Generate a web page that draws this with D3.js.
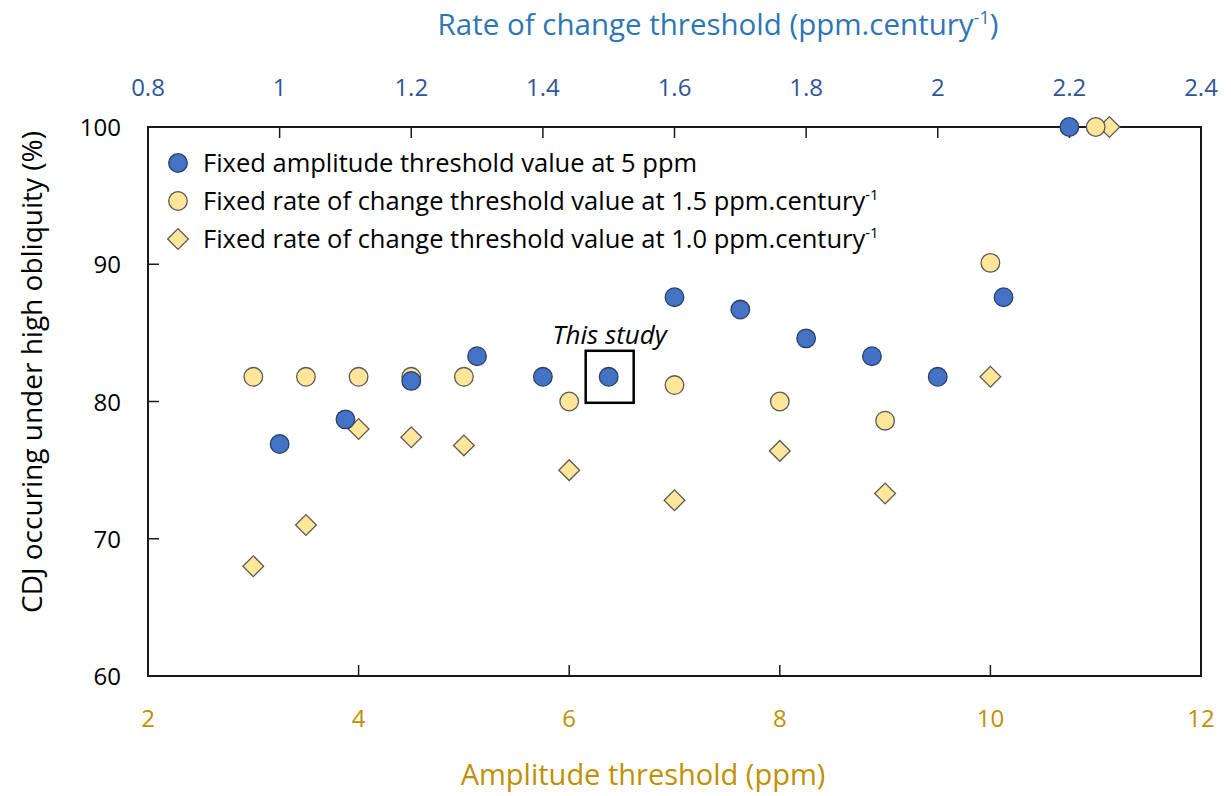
<!DOCTYPE html>
<html>
<head>
<meta charset="utf-8">
<script src="https://cdn.jsdelivr.net/npm/d3@7"></script>
<style>
  body { margin: 0; background: #fff; }
  text { font-family: "Open Sans", Lato, sans-serif; }
</style>
</head>
<body>
<svg id="chart" width="1231" height="796"></svg>
<script>
// rate of change thresholds (top axis) for fixed amplitude 5 ppm
var rateValues = [1.0, 1.1, 1.2, 1.3, 1.4, 1.5, 1.6, 1.7, 1.8, 1.9, 2.0, 2.1, 2.2]
var rateCdj    = [76.9, 78.7, 81.5, 83.3, 81.8, 81.8, 87.6, 86.7, 84.6, 83.3, 81.8, 87.6, 100]

// amplitude thresholds (bottom axis)
var ampValues15 = [3, 3.5, 4, 4.5, 5, 6, 7, 8, 9, 10, 11]
var ampCdj15    = [81.8, 81.8, 81.8, 81.8, 81.8, 80.0, 81.2, 80.0, 78.6, 90.1, 100]
var ampValues10 = [3, 3.5, 4, 4.5, 5, 6, 7, 8, 9, 10, 11.13]
var ampCdj10    = [68.0, 71.0, 78.0, 77.4, 76.8, 75.0, 72.8, 76.4, 73.3, 81.8, 100]

var ampTicks  = [2, 4, 6, 8, 10, 12]
var rateTicks = [0.8, 1, 1.2, 1.4, 1.6, 1.8, 2, 2.2, 2.4]
var yTicks    = [60, 70, 80, 90, 100]

var legendLabels = [
  'Fixed amplitude threshold value at 5 ppm',
  'Fixed rate of change threshold value at 1.5 ppm.century',
  'Fixed rate of change threshold value at 1.0 ppm.century'
]

var pLeft = 148, pRight = 1201, pTop = 127, pBottom = 676
var blue = '#4472C4', yellow = '#FFE699'

var svg = d3.select('#chart')

var xAmp = d3.scaleLinear().domain([2, 12]).range([pLeft, pRight])
var xRate = d3.scaleLinear().domain([0.8, 2.4]).range([pLeft, pRight])
var y = d3.scaleLinear().domain([60, 100]).range([pBottom, pTop])

// frame
svg.append('rect').attr('x', pLeft).attr('y', pTop)
  .attr('width', pRight - pLeft).attr('height', pBottom - pTop)
  .attr('fill', 'none').attr('stroke', '#1a1a1a').attr('stroke-width', 2)

// inward ticks
svg.selectAll('line.tb').data(ampTicks.slice(1, -1)).enter().append('line')
  .attr('x1', d => xAmp(d)).attr('x2', d => xAmp(d))
  .attr('y1', pBottom).attr('y2', pBottom - 11)
  .attr('stroke', '#1a1a1a').attr('stroke-width', 1.5)
svg.selectAll('line.tt').data(rateTicks.slice(1, -1)).enter().append('line')
  .attr('x1', d => xRate(d)).attr('x2', d => xRate(d))
  .attr('y1', pTop).attr('y2', pTop + 11)
  .attr('stroke', '#1a1a1a').attr('stroke-width', 1.5)
svg.selectAll('line.tl').data(yTicks.slice(1, -1)).enter().append('line')
  .attr('x1', pLeft).attr('x2', pLeft + 11)
  .attr('y1', d => y(d)).attr('y2', d => y(d))
  .attr('stroke', '#1a1a1a').attr('stroke-width', 1.5)

// tick labels
svg.selectAll('text.xb').data(ampTicks).enter().append('text')
  .attr('x', d => xAmp(d)).attr('y', 727)
  .attr('text-anchor', 'middle').attr('fill', '#BF9000').attr('font-size', 24)
  .text(d => d)
svg.selectAll('text.xt').data(rateTicks).enter().append('text')
  .attr('x', d => xRate(d)).attr('y', 96)
  .attr('text-anchor', 'middle').attr('fill', '#2F5597').attr('font-size', 24)
  .text(d => d)
svg.selectAll('text.yl').data(yTicks).enter().append('text')
  .attr('x', 121).attr('y', d => y(d) + 9)
  .attr('text-anchor', 'end').attr('fill', '#000').attr('font-size', 24)
  .text(d => d)

// axis titles
svg.append('text').attr('x', 643).attr('y', 785)
  .attr('text-anchor', 'middle').attr('fill', '#BF9000').attr('font-size', 29)
  .text('Amplitude threshold (ppm)')

var topTitle = svg.append('text').attr('x', 718).attr('y', 35)
  .attr('text-anchor', 'middle').attr('fill', '#2E75B6').attr('font-size', 29.5)
topTitle.append('tspan').text('Rate of change threshold (ppm.century')
topTitle.append('tspan').attr('dy', -11).attr('font-size', 18).text('-1')
topTitle.append('tspan').attr('dy', 11).text(')')

svg.append('text')
  .attr('transform', 'translate(42,372) rotate(-90)')
  .attr('text-anchor', 'middle').attr('fill', '#000').attr('font-size', 28)
  .text('CDJ occuring under high obliquity (%)')

// data
var diamond = d3.symbol().type(d3.symbolSquare).size(215)

svg.selectAll('path.d10').data(ampValues10).enter().append('path')
  .attr('d', diamond)
  .attr('transform', (d, i) => 'translate(' + xAmp(d) + ',' + y(ampCdj10[i]) + ') rotate(45)')
  .attr('fill', yellow).attr('stroke', '#595959').attr('stroke-width', 1.3)

svg.selectAll('circle.c15').data(ampValues15).enter().append('circle')
  .attr('cx', d => xAmp(d)).attr('cy', (d, i) => y(ampCdj15[i])).attr('r', 9.3)
  .attr('fill', yellow).attr('stroke', '#595959').attr('stroke-width', 1.3)

svg.selectAll('circle.rate').data(rateValues).enter().append('circle')
  .attr('cx', d => xRate(d)).attr('cy', (d, i) => y(rateCdj[i])).attr('r', 9.3)
  .attr('fill', blue).attr('stroke', '#2a3f66').attr('stroke-width', 1.3)

// this study marker
var sx = xRate(1.5), sy = y(81.8)
svg.append('rect').attr('x', sx - 23).attr('y', sy - 26)
  .attr('width', 48).attr('height', 52)
  .attr('fill', 'none').attr('stroke', '#000').attr('stroke-width', 2.5)
svg.append('text').attr('x', sx + 1).attr('y', sy - 33)
  .attr('text-anchor', 'middle').attr('font-style', 'italic').attr('font-size', 26)
  .text('This study')

// legend
var legY = [163, 201, 239]
svg.append('circle').attr('cx', 178).attr('cy', legY[0]).attr('r', 9.3)
  .attr('fill', blue).attr('stroke', '#2a3f66').attr('stroke-width', 1.3)
svg.append('circle').attr('cx', 178).attr('cy', legY[1]).attr('r', 9.3)
  .attr('fill', yellow).attr('stroke', '#595959').attr('stroke-width', 1.3)
svg.append('path').attr('d', diamond)
  .attr('transform', 'translate(178,' + legY[2] + ') rotate(45)')
  .attr('fill', yellow).attr('stroke', '#595959').attr('stroke-width', 1.3)

legendLabels.forEach(function(label, i) {
  var t = svg.append('text').attr('x', 203).attr('y', legY[i] + 9)
    .attr('fill', '#000').attr('font-size', 25.5)
  t.append('tspan').text(label)
  if (i > 0) {
    t.append('tspan').attr('dy', -10).attr('font-size', 15).text('-1')
  }
})
</script>
</body>
</html>
